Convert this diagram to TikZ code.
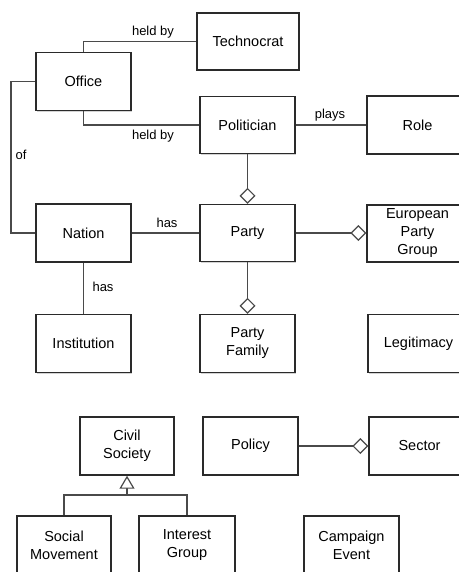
\documentclass[tikz,border=0pt]{standalone}
\usepackage{fontspec}
\setmainfont{Liberation Sans}
\usetikzlibrary{arrows.meta,shadows}
\definecolor{edgegrey}{HTML}{4A4A4A}
\definecolor{boxline}{HTML}{2A2A2A}
\tikzset{
  entity/.style={draw=boxline, line width=1.4pt, fill=white, rectangle,
    minimum width=95pt, minimum height=58pt, align=center,
    font=\fontsize{14.5}{18}\selectfont, inner sep=2pt,
    drop shadow={shadow xshift=1.2pt, shadow yshift=-1.2pt, opacity=0.35, fill=black!50}},
  edgebox/.style={entity, minimum width=101pt},
  link/.style={draw=edgegrey, line width=1.2pt},
  agg/.style={link, -{Diamond[open, length=16pt, width=16pt, fill=white, line width=1.2pt]}},
  gen/.style={link, -{Triangle[open, length=13pt, width=15pt, fill=white, line width=1.2pt]}},
  rel/.style={font=\fontsize{13}{15}\selectfont, inner sep=1pt}
}
\begin{document}
\begin{tikzpicture}[x=1pt, y=-1pt]
  \useasboundingbox (0,0) rectangle (458,572);

  % entities
  \node[entity, minimum width=102pt, minimum height=57pt] (tech) at (248,41.5) {Technocrat};
  \node[entity] (office) at (83.5,81.5) {Office};
  \node[entity, minimum height=57pt] (pol) at (247.5,125) {Politician};
  \node[edgebox] (role) at (417.5,125) {Role};
  \node[entity] (nation) at (83.5,233) {Nation};
  \node[entity, minimum height=57pt] (party) at (247.5,233) {Party};
  \node[edgebox, minimum height=57pt] (epg) at (417.5,233.5) {European\\Party\\Group};
  \node[entity] (inst) at (83.5,343.5) {Institution};
  \node[entity] (pfam) at (247.5,343.5) {Party\\Family};
  \node[edgebox] (legit) at (418.5,343.5) {Legitimacy};
  \node[entity, minimum width=94pt] (civil) at (127,446) {Civil\\Society};
  \node[entity] (policy) at (250.5,446) {Policy};
  \node[edgebox] (sector) at (419.5,446) {Sector};
  \node[entity, minimum width=94pt] (socmov) at (64,545) {Social\\Movement};
  \node[entity, minimum width=96pt] (intgrp) at (187,545) {Interest\\Group};
  \node[entity] (campaign) at (351.5,545) {Campaign\\Event};

  % associations
  \coordinate (ofbend) at (11,81.5);
  \coordinate (genjoin) at (127,495);
  \draw[link] (office.north) |- (tech.west);
  \draw[link] (office.south) |- (pol.west);
  \draw[link] (pol.east) -- (role.west);
  \draw[link] (office.west) -- (ofbend) |- (nation.west);
  \draw[link] (nation.east) -- (party.west);
  \draw[link] (nation.south) -- (inst.north);

  % aggregations
  \draw[agg] (pol.south) -- (party.north);
  \draw[agg] (party.south) -- (pfam.north);
  \draw[agg] (party.east) -- (party.east -| epg.west);
  \draw[agg] (policy.east) -- (sector.west);

  % generalisation
  \draw[link] (socmov.north) |- (genjoin) -| (intgrp.north);
  \draw[gen] (genjoin) -- (civil.south);

  % relation labels
  \node[rel] (lheld1) at (153,32) {held by};
  \node[rel] (lheld2) at (153,136) {held by};
  \node[rel] (lplays) at (330,115) {plays};
  \node[rel] (lof) at (21,155) {of};
  \node[rel] (lhas1) at (167,223) {has};
  \node[rel] (lhas2) at (103,287) {has};
\end{tikzpicture}
\end{document}
